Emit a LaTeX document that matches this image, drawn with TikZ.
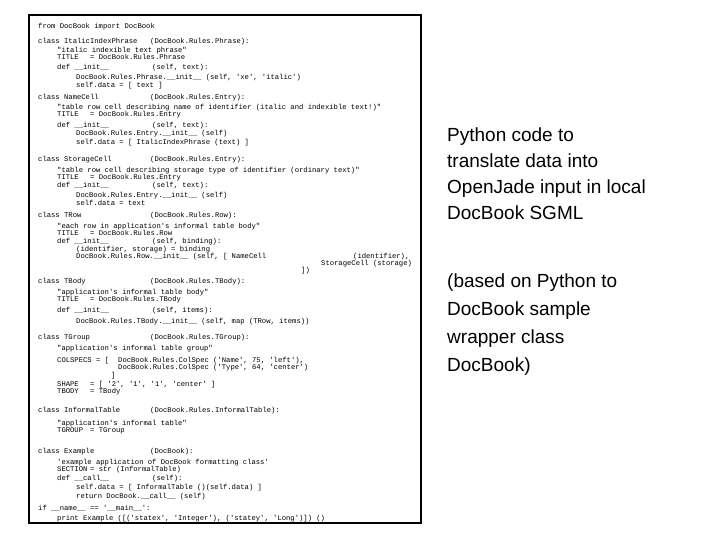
\documentclass[tikz,border=0pt]{standalone}
\usepackage{fontspec}
\setmainfont{Liberation Sans}
\setmonofont{Liberation Mono}
\begin{document}
\begin{tikzpicture}[x=1pt,y=-1pt,
  code/.style={anchor=base west,inner sep=0pt,font=\ttfamily\fontsize{7.2}{8}\selectfont},
  big/.style={anchor=base west,inner sep=0pt,font=\fontsize{19}{22}\selectfont}]
\useasboundingbox (0,0) rectangle (720,540);
\draw[line width=1.2pt] (29,15) rectangle (421,523);
\newcommand\cl[3]{\node[code] at (#1,#2+2.5) {#3};}
\cl{38}{26}{from DocBook import DocBook}
\cl{38}{41}{class ItalicIndexPhrase} \cl{150}{41}{(DocBook.Rules.Phrase):}
\cl{57}{50}{"italic indexible text phrase"}
\cl{57}{57}{TITLE} \cl{90}{57}{= DocBook.Rules.Phrase}
\cl{57}{67}{def \_\_init\_\_} \cl{152}{67}{(self, text):}
\cl{76}{77}{DocBook.Rules.Phrase.\_\_init\_\_ (self, 'xe', 'italic')}
\cl{76}{85}{self.data = [ text ]}
\cl{38}{97}{class NameCell} \cl{150}{97}{(DocBook.Rules.Entry):}
\cl{57}{107}{"table row cell describing name of identifier (italic and indexible text!)"}
\cl{57}{114}{TITLE} \cl{90}{114}{= DocBook.Rules.Entry}
\cl{57}{125}{def \_\_init\_\_} \cl{152}{125}{(self, text):}
\cl{76}{133}{DocBook.Rules.Entry.\_\_init\_\_ (self)}
\cl{76}{142}{self.data = [ ItalicIndexPhrase (text) ]}
\cl{38}{159}{class StorageCell} \cl{150}{159}{(DocBook.Rules.Entry):}
\cl{57}{170}{"table row cell describing storage type of identifier (ordinary text)"}
\cl{57}{177}{TITLE} \cl{90}{177}{= DocBook.Rules.Entry}
\cl{57}{185}{def \_\_init\_\_} \cl{152}{185}{(self, text):}
\cl{76}{195}{DocBook.Rules.Entry.\_\_init\_\_ (self)}
\cl{76}{203}{self.data = text}
\cl{38}{215}{class TRow} \cl{150}{215}{(DocBook.Rules.Row):}
\cl{57}{226}{"each row in application's informal table body"}
\cl{57}{233}{TITLE} \cl{90}{233}{= DocBook.Rules.Row}
\cl{57}{241}{def \_\_init\_\_} \cl{152}{241}{(self, binding):}
\cl{76}{249}{(identifier, storage) = binding}
\cl{76}{256}{DocBook.Rules.Row.\_\_init\_\_ (self, [ NameCell} \cl{353}{256}{(identifier),}
\cl{321}{263}{StorageCell (storage)}
\cl{301}{270}{])}
\cl{38}{281}{class TBody} \cl{150}{281}{(DocBook.Rules.TBody):}
\cl{57}{292}{"application's informal table body"}
\cl{57}{299}{TITLE} \cl{90}{299}{= DocBook.Rules.TBody}
\cl{57}{310}{def \_\_init\_\_} \cl{152}{310}{(self, items):}
\cl{76}{321}{DocBook.Rules.TBody.\_\_init\_\_ (self, map (TRow, items))}
\cl{38}{337}{class TGroup} \cl{150}{337}{(DocBook.Rules.TGroup):}
\cl{57}{348}{"application's informal table group"}
\cl{57}{360}{COLSPECS = [} \cl{118}{360}{DocBook.Rules.ColSpec ('Name', 75, 'left'),}
\cl{118}{367}{DocBook.Rules.ColSpec ('Type', 64, 'center')}
\cl{111}{375}{]}
\cl{57}{384}{SHAPE} \cl{90}{384}{= [ '2', '1', '1', 'center' ]}
\cl{57}{391}{TBODY} \cl{90}{391}{= TBody}
\cl{38}{410}{class InformalTable} \cl{150}{410}{(DocBook.Rules.InformalTable):}
\cl{57}{423}{"application's informal table"}
\cl{57}{430}{TGROUP} \cl{90}{430}{= TGroup}
\cl{38}{451}{class Example} \cl{150}{451}{(DocBook):}
\cl{57}{462}{'example application of DocBook formatting class'}
\cl{57}{469}{SECTION} \cl{90}{469}{= str (InformalTable)}
\cl{57}{478}{def \_\_call\_\_} \cl{152}{478}{(self):}
\cl{76}{487}{self.data = [ InformalTable ()(self.data) ]}
\cl{76}{496}{return DocBook.\_\_call\_\_ (self)}
\cl{38}{508}{if \_\_name\_\_ == '\_\_main\_\_':}
\cl{57}{518}{print Example ([('statex', 'Integer'), ('statey', 'Long')]) ()}
\node[big] (t1) at (447,142) {Python code to};
\node[big] (t2) at (447,168) {translate data into};
\node[big] (t3) at (447,194) {OpenJade input in local};
\node[big] (t4) at (447,220) {DocBook SGML};
\node[big] (t5) at (447,287) {(based on Python to};
\node[big] (t6) at (447,315) {DocBook sample};
\node[big] (t7) at (447,343) {wrapper class};
\node[big] (t8) at (447,371) {DocBook)};
\end{tikzpicture}
\end{document}
